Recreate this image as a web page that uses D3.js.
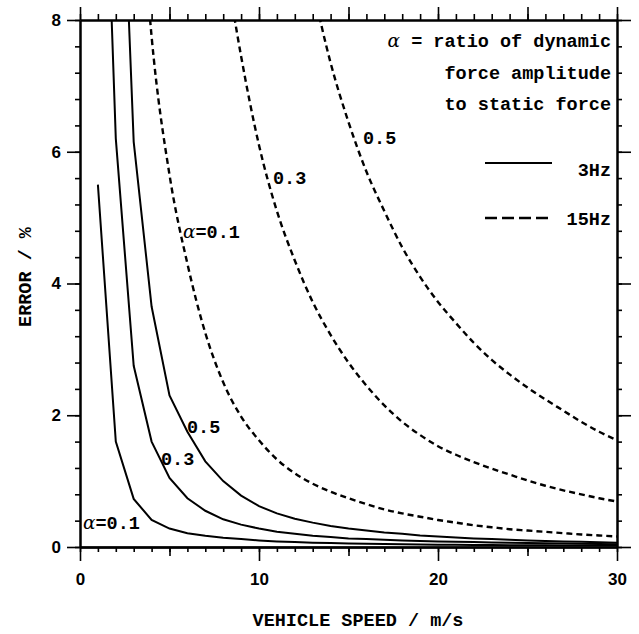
<!DOCTYPE html>
<html>
<head>
<meta charset="utf-8">
<script src="https://cdn.jsdelivr.net/npm/d3@7"></script>
<style>
  html, body { margin: 0; padding: 0; background: #fff; }
  svg { display: block; }
  .mono { font-family: "Liberation Mono", "DejaVu Sans Mono", monospace; font-weight: bold; }
</style>
</head>
<body>
<svg id="chart" width="639" height="634"></svg>
<script>
// ---------- data ----------
const speeds = [1,2,3,4,5,6,7,8,9,10,11,12,13,14,15,16,17,18,19,20,21,22,23,24,25,26,27,28,29,30];

// 3 Hz (solid)
const hz3_a01 = [5.5,1.6,0.73,0.41,0.28,0.21,0.17,0.14,0.12,0.1,0.085,0.075,0.066,0.06,0.055,0.05,0.046,0.042,0.039,0.036,0.034,0.032,0.03,0.028,0.026,0.025,0.024,0.023,0.022,0.021];
const hz3_a03 = [14,6.2,2.75,1.6,1.05,0.74,0.55,0.42,0.34,0.28,0.23,0.2,0.17,0.15,0.13,0.12,0.11,0.1,0.09,0.085,0.08,0.075,0.07,0.065,0.06,0.056,0.052,0.049,0.046,0.043];
const hz3_a05 = [null,13,6.15,3.65,2.3,1.75,1.3,1.0,0.78,0.62,0.51,0.43,0.37,0.32,0.28,0.25,0.22,0.2,0.175,0.16,0.145,0.13,0.12,0.11,0.1,0.092,0.085,0.078,0.072,0.066];

// 15 Hz (dashed)
const hz15_a01 = [null,null,11.5,7.75,5.65,4.3,3.25,2.5,1.98,1.62,1.33,1.12,0.96,0.84,0.74,0.65,0.57,0.51,0.46,0.41,0.37,0.33,0.3,0.27,0.25,0.23,0.21,0.19,0.175,0.16];
const hz15_a03 = [null,null,null,null,null,null,null,9.1,7.45,6.1,5.1,4.35,3.72,3.22,2.8,2.45,2.15,1.9,1.7,1.53,1.4,1.29,1.19,1.1,1.01,0.93,0.86,0.8,0.74,0.69];
const hz15_a05 = [null,null,null,null,null,null,null,null,null,null,null,null,8.5,7.35,6.45,5.7,5.1,4.55,4.1,3.72,3.4,3.1,2.84,2.62,2.42,2.24,2.07,1.9,1.75,1.62];

const xTickLabels = [0,10,20,30];
const yTickLabels = [0,2,4,6,8];

// ---------- layout ----------
const svg = d3.select("#chart");
const x = d3.scaleLinear().domain([0,30]).range([80,617]);
const y = d3.scaleLinear().domain([0,8]).range([547,20]);

svg.append("defs").append("clipPath").attr("id","plotClip")
  .append("rect").attr("x",80).attr("y",20).attr("width",537).attr("height",527);

// ---------- curves ----------
const lineSolid = d3.line()
  .defined(d => d[1] !== null)
  .x(d => x(d[0])).y(d => y(d[1]))
  .curve(d3.curveLinear);
const lineDashed = d3.line()
  .defined(d => d[1] !== null)
  .x(d => x(d[0])).y(d => y(d[1]))
  .curve(d3.curveMonotoneX);

const series = [
  {v: hz3_a01, dash: null}, {v: hz3_a03, dash: null}, {v: hz3_a05, dash: null},
  {v: hz15_a01, dash: "6,4"}, {v: hz15_a03, dash: "6,4"}, {v: hz15_a05, dash: "6,4"}
];
const gCurves = svg.append("g").attr("clip-path","url(#plotClip)");
series.forEach(s => {
  gCurves.append("path")
    .datum(speeds.map((sp,i) => [sp, s.v[i]]))
    .attr("d", s.dash ? lineDashed : lineSolid)
    .attr("fill","none")
    .attr("stroke","#000")
    .attr("stroke-width", s.dash ? 2.4 : 2)
    .attr("stroke-dasharray", s.dash);
});

// ---------- axes ----------
function styleAxis(g){
  g.select(".domain").attr("stroke-width",2);
  g.selectAll(".tick line").attr("stroke-width",1.6);
  g.selectAll("text").attr("font-family","'Liberation Sans', Arial, sans-serif")
    .attr("font-weight","bold").attr("font-size",17).attr("fill","#000");
}
const xMinor = d3.range(0,31,1);
const x5 = [5,15,25];
const yMinor = d3.range(0,8.001,0.4).map(v => +v.toFixed(1));

// bottom
svg.append("g").attr("transform","translate(0,547)")
  .call(d3.axisBottom(x).tickValues(xMinor).tickSize(5).tickSizeOuter(0).tickFormat("")).call(styleAxis);
svg.append("g").attr("transform","translate(0,547)")
  .call(d3.axisBottom(x).tickValues(x5).tickSize(9).tickSizeOuter(0).tickFormat("")).call(styleAxis);
svg.append("g").attr("transform","translate(0,547)")
  .call(d3.axisBottom(x).tickValues(xTickLabels).tickSize(14).tickSizeOuter(0).tickPadding(12).tickFormat(d3.format("d"))).call(styleAxis);
// top
svg.append("g").attr("transform","translate(0,20)")
  .call(d3.axisTop(x).tickValues(xMinor).tickSize(6).tickSizeOuter(0).tickFormat("")).call(styleAxis);
svg.append("g").attr("transform","translate(0,20)")
  .call(d3.axisTop(x).tickValues([0,5,10,15,20,25,30]).tickSize(13).tickSizeOuter(0).tickFormat("")).call(styleAxis);
// left
svg.append("g").attr("transform","translate(80,0)")
  .call(d3.axisLeft(y).tickValues(yMinor).tickSize(5).tickSizeOuter(0).tickFormat("")).call(styleAxis);
svg.append("g").attr("transform","translate(80,0)")
  .call(d3.axisLeft(y).tickValues(yTickLabels).tickSize(13).tickSizeOuter(0).tickPadding(6).tickFormat(d3.format("d"))).call(styleAxis);
// right
svg.append("g").attr("transform","translate(617,0)")
  .call(d3.axisRight(y).tickValues(yMinor).tickSize(5).tickSizeOuter(0).tickFormat("")).call(styleAxis);
svg.append("g").attr("transform","translate(617,0)")
  .call(d3.axisRight(y).tickValues(yTickLabels).tickSize(14).tickSizeOuter(0).tickFormat("")).call(styleAxis);

// ---------- axis titles ----------
svg.append("text").attr("class","mono")
  .attr("x",358).attr("y",626).attr("text-anchor","middle").attr("font-size",18.5)
  .text("VEHICLE SPEED / m/s");
svg.append("text").attr("class","mono")
  .attr("transform","translate(31,277) rotate(-90)").attr("text-anchor","middle").attr("font-size",18.5)
  .text("ERROR / %");

// ---------- curve labels ----------
function label(xp, yp, txt, alpha){
  const t = svg.append("text").attr("class","mono").attr("x",xp).attr("y",yp).attr("font-size",18.5);
  if (alpha) {
    t.append("tspan").attr("font-family","'DejaVu Serif', serif").attr("font-style","italic").attr("font-weight","normal").text("α");
    t.append("tspan").text("=" + txt);
  } else {
    t.text(txt);
  }
}
label(363,144,"0.5");
label(273,184,"0.3");
label(183,238,"0.1",true);
label(187,433,"0.5");
label(161,465,"0.3");
label(83,529,"0.1",true);

// ---------- legend ----------
const legendLines = ["ratio of dynamic","force amplitude","to static force"];
const lt = svg.append("text").attr("class","mono").attr("x",611).attr("y",47).attr("text-anchor","end").attr("font-size",18.5);
lt.append("tspan").attr("font-family","'DejaVu Serif', serif").attr("font-style","italic").attr("font-weight","normal").text("α");
lt.append("tspan").text(" = " + legendLines[0]);
svg.append("text").attr("class","mono").attr("x",611).attr("y",79).attr("text-anchor","end").attr("font-size",18.5).text(legendLines[1]);
svg.append("text").attr("class","mono").attr("x",611).attr("y",110).attr("text-anchor","end").attr("font-size",18.5).text(legendLines[2]);

svg.append("line").attr("x1",485).attr("x2",552).attr("y1",163).attr("y2",163).attr("stroke","#000").attr("stroke-width",2);
svg.append("text").attr("class","mono").attr("x",611).attr("y",176).attr("text-anchor","end").attr("font-size",18.5).text("3Hz");
svg.append("line").attr("x1",485).attr("x2",549).attr("y1",218).attr("y2",218).attr("stroke","#000").attr("stroke-width",2.4).attr("stroke-dasharray","12,5");
svg.append("text").attr("class","mono").attr("x",611).attr("y",225).attr("text-anchor","end").attr("font-size",18.5).text("15Hz");
</script>
</body>
</html>
